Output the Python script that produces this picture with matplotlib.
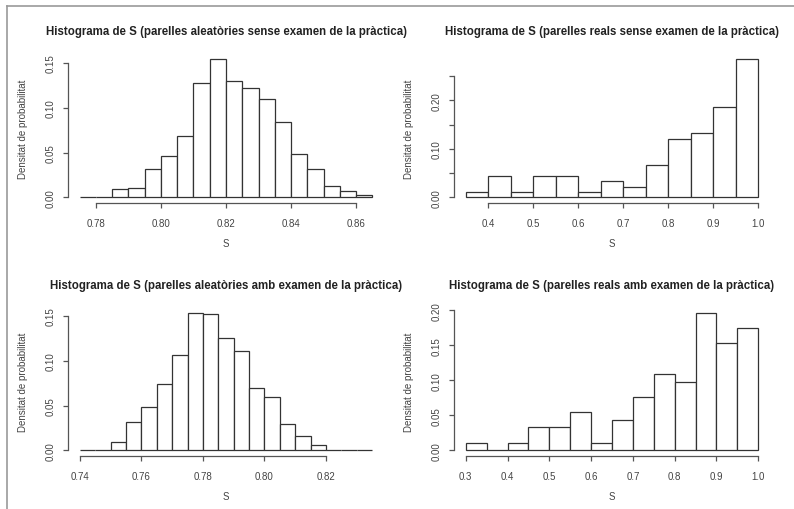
import numpy as np
import matplotlib
matplotlib.use("Agg")
import matplotlib.pyplot as plt
from matplotlib.lines import Line2D

plt.rcParams['font.family'] = ['Liberation Sans', 'DejaVu Sans']

# Dades (densitat per classe, llegides del gràfic)
vores_1 = np.round(np.arange(0.775, 0.8651, 0.005), 3)
dens_1 = [0.001, 0.0, 0.009, 0.011, 0.032, 0.046, 0.069, 0.128, 0.155,
          0.130, 0.122, 0.110, 0.084, 0.048, 0.032, 0.013, 0.007, 0.003]

vores_2 = np.round(np.arange(0.35, 1.0001, 0.05), 2)
dens_2 = [0.011, 0.044, 0.011, 0.044, 0.044, 0.011, 0.033, 0.022,
          0.066, 0.121, 0.132, 0.187, 0.286]

vores_3 = np.round(np.arange(0.740, 0.8351, 0.005), 3)
dens_3 = [0.001, 0.001, 0.010, 0.032, 0.048, 0.074, 0.107, 0.154, 0.152,
          0.125, 0.111, 0.070, 0.060, 0.030, 0.016, 0.006, 0.001, 0.001, 0.001]

vores_4 = np.round(np.arange(0.30, 1.0001, 0.05), 2)
dens_4 = [0.011, 0.0, 0.011, 0.033, 0.033, 0.055, 0.011, 0.044,
          0.077, 0.109, 0.098, 0.197, 0.153, 0.175]

xticks_1 = [0.78, 0.80, 0.82, 0.84, 0.86]
xticks_2 = [0.4, 0.5, 0.6, 0.7, 0.8, 0.9, 1.0]
xticks_3 = [0.74, 0.76, 0.78, 0.80, 0.82]
xticks_4 = [0.3, 0.4, 0.5, 0.6, 0.7, 0.8, 0.9, 1.0]

yticks_1 = [0.0, 0.05, 0.10, 0.15]
yticks_2 = [0.0, 0.05, 0.10, 0.15, 0.20, 0.25]
yticks_3 = [0.0, 0.05, 0.10, 0.15]
yticks_4 = [0.0, 0.05, 0.10, 0.15, 0.20]

ylabels_2 = ['0.00', '', '0.10', '', '0.20', '']

titols = [
    "Histograma de S (parelles aleatòries sense examen de la pràctica)",
    "Histograma de S (parelles reals sense examen de la pràctica)",
    "Histograma de S (parelles aleatòries amb examen de la pràctica)",
    "Histograma de S (parelles reals amb examen de la pràctica)",
]

W, H = 794, 510
fig = plt.figure(figsize=(W / 100, H / 100), dpi=100)

TXT = '#444444'
EDGE = '#333333'


def panell(px_left, px_top, px_w, px_h, vores, dens, xticks, yticks,
           titol, ylabels=None, xfmt='{:.2f}'):
    ax = fig.add_axes([px_left / W, 1 - (px_top + px_h) / H, px_w / W, px_h / H])
    ax.patch.set_alpha(0)
    amp = np.diff(vores)
    ax.bar(vores[:-1], dens, width=amp, align='edge', color='white',
           edgecolor=EDGE, linewidth=0.9)
    # límits a l'estil R (4% extra)
    x0, x1 = vores[0], vores[-1]
    dx = (x1 - x0) * 0.04
    ax.set_xlim(x0 - dx, x1 + dx)
    ymax = max(dens)
    ax.set_ylim(-ymax * 0.04, ymax * 1.04)

    for s in ['top', 'right']:
        ax.spines[s].set_visible(False)
    ax.spines['left'].set_bounds(yticks[0], yticks[-1])
    ax.spines['bottom'].set_bounds(xticks[0], xticks[-1])
    for s in ['left', 'bottom']:
        ax.spines[s].set_color('#555555')
        ax.spines[s].set_linewidth(0.9)

    ax.set_xticks(xticks)
    ax.set_xticklabels([xfmt.format(v) for v in xticks])
    ax.set_yticks(yticks)
    if ylabels is None:
        ylabels = ['{:.2f}'.format(v) for v in yticks]
    ax.set_yticklabels(ylabels, rotation=90, va='center')
    ax.tick_params(axis='both', length=3.6, width=0.9, color='#555555',
                   labelsize=7, labelcolor=TXT)
    ax.tick_params(axis='x', pad=7)
    ax.tick_params(axis='y', pad=5)

    ax.set_xlabel('S', fontsize=7, color=TXT)
    ax.xaxis.set_label_coords(0.5, -0.235)
    ax.set_ylabel('Densitat de probabilitat', fontsize=7, color=TXT)
    ax.yaxis.set_label_coords(-0.127, 0.5)
    ax.text(0.5, 1.147, titol, transform=ax.transAxes, ha='center',
            va='center', fontsize=8.3, fontweight='bold', color='#222222')
    return ax


panell(68, 54, 316, 150, vores_1, dens_1, xticks_1, yticks_1, titols[0])
panell(454, 54, 316, 150, vores_2, dens_2, xticks_2, yticks_2, titols[1],
       ylabels=ylabels_2, xfmt='{:.1f}')
panell(68, 308, 316, 149, vores_3, dens_3, xticks_3, yticks_3, titols[2])
panell(454, 308, 316, 149, vores_4, dens_4, xticks_4, yticks_4, titols[3],
       xfmt='{:.1f}')

# marc de la captura (línia superior i esquerra)
fig.add_artist(Line2D([7 / W, 1], [1 - 7 / H, 1 - 7 / H], color='#999999',
                      linewidth=1.2, transform=fig.transFigure))
fig.add_artist(Line2D([7 / W, 7 / W], [0, 1 - 7 / H], color='#999999',
                      linewidth=1.2, transform=fig.transFigure))

fig.savefig('out.png', dpi=100)
